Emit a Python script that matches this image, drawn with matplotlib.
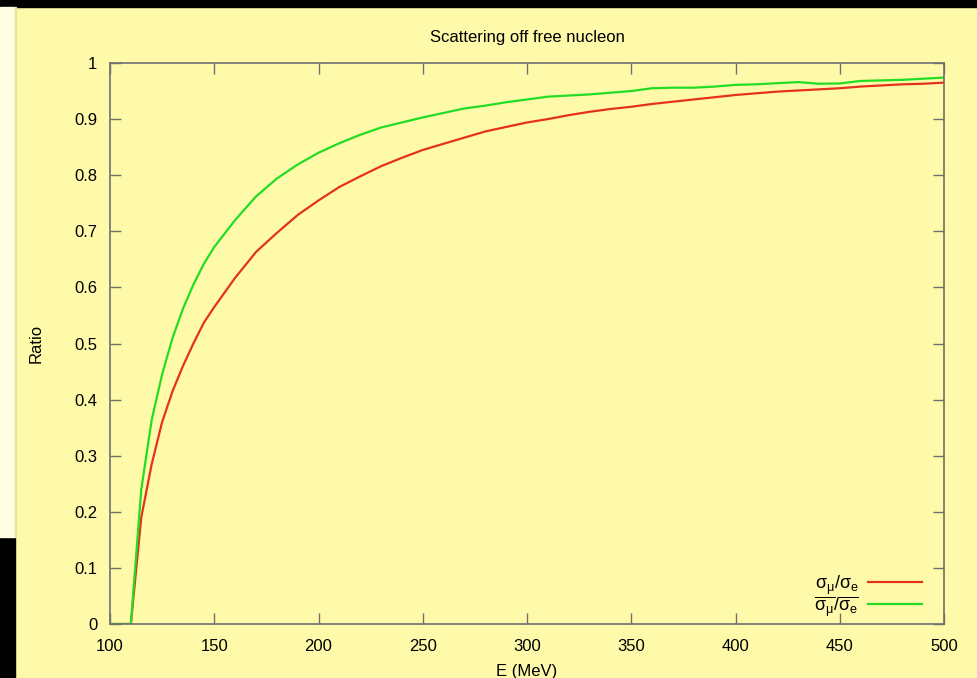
import numpy as np
import matplotlib.pyplot as plt
from matplotlib.patches import Rectangle

'''
Data: cross section ratios vs. energy
'''
E = [100, 105, 110, 115, 120, 125, 130, 135, 140, 145, 150,
     160, 170, 180, 190, 200, 210, 220, 230, 240, 250,
     260, 270, 280, 290, 300, 310, 320, 330, 340, 350,
     360, 370, 380, 390, 400, 410, 420, 430, 440, 450,
     460, 470, 480, 490, 500]

# sigma_mu / sigma_e
ratio_nu = [0, 0, 0, 0.19, 0.285, 0.36, 0.415, 0.46, 0.50, 0.537, 0.565,
            0.617, 0.663, 0.697, 0.729, 0.755, 0.779, 0.798, 0.816, 0.831, 0.845,
            0.856, 0.867, 0.878, 0.886, 0.894, 0.900, 0.907, 0.913, 0.918, 0.922,
            0.927, 0.931, 0.935, 0.939, 0.943, 0.946, 0.949, 0.951, 0.953, 0.955,
            0.958, 0.960, 0.962, 0.963, 0.965]

# anti-neutrino: sigma_mu-bar / sigma_e-bar
ratio_nubar = [0, 0, 0, 0.24, 0.364, 0.445, 0.51, 0.562, 0.605, 0.642, 0.672,
               0.72, 0.762, 0.794, 0.819, 0.840, 0.857, 0.872, 0.885, 0.894, 0.903,
               0.911, 0.919, 0.924, 0.930, 0.935, 0.940, 0.942, 0.944, 0.947, 0.950,
               0.955, 0.956, 0.956, 0.958, 0.961, 0.962, 0.964, 0.966, 0.963, 0.9635,
               0.968, 0.969, 0.970, 0.972, 0.974]

xticks = np.arange(100, 501, 50)
yticks = np.round(np.arange(0, 1.01, 0.1), 1)

'''
Plot
'''
bg = '#fffaaa'
plt.rcParams['font.family'] = ['Liberation Sans', 'DejaVu Sans']
plt.rcParams['mathtext.fontset'] = 'custom'
plt.rcParams['mathtext.rm'] = 'Liberation Sans'
plt.rcParams['mathtext.it'] = 'Liberation Sans'
plt.rcParams['mathtext.default'] = 'regular'

fig = plt.figure(figsize=(9.78, 6.78), dpi=100, facecolor=bg)
ax = fig.add_axes([110/978, 54/678, 834/978, 561/678], facecolor=bg)

ax.plot(E, ratio_nu, color='#e5321c', lw=1.6, label=r'$\sigma_\mu/\sigma_e$')
ax.plot(E, ratio_nubar, color='#22dd22', lw=1.6,
        label=r'$\overline{\sigma_\mu}/\overline{\sigma_e}$')

ax.set_xlim(100, 500)
ax.set_ylim(0, 1)
ax.set_xticks(xticks)
ax.set_yticks(yticks)
ax.set_yticklabels([f'{v:g}' for v in yticks])
ax.tick_params(direction='in', length=8, width=1, color='#707070',
               top=True, right=True, labelsize=12, pad=9)
ax.tick_params(axis='x', pad=11)
for s in ax.spines.values():
    s.set_color('#707070')
    s.set_linewidth(1.2)

ax.set_title('Scattering off free nucleon', fontsize=12, pad=15)
ax.set_xlabel('E (MeV)', fontsize=12, labelpad=7)
ax.set_ylabel('Ratio', fontsize=12, labelpad=22)

ax.legend(loc='lower right', frameon=False, markerfirst=False, fontsize=13,
          handlelength=3.0, handletextpad=0.5, labelspacing=-0.12,
          borderpad=0, borderaxespad=0, bbox_to_anchor=(0.9736, 0.010))

# screen-capture border around the slide
fig.add_artist(Rectangle((0, 1 - 7/678), 1, 7/678, transform=fig.transFigure,
                         color='black', zorder=0))
fig.add_artist(Rectangle((0, 0), 15/978, 141/678, transform=fig.transFigure,
                         color='black', zorder=0))
fig.add_artist(Rectangle((0, 141/678), 15/978, 530/678, transform=fig.transFigure,
                         color='#fffde2', zorder=0))
fig.add_artist(Rectangle((15/978, 141/678), 1/978, 530/678, transform=fig.transFigure,
                         color='#e8e2a0', zorder=0))

fig.savefig('out.png', dpi=100, facecolor=bg)
